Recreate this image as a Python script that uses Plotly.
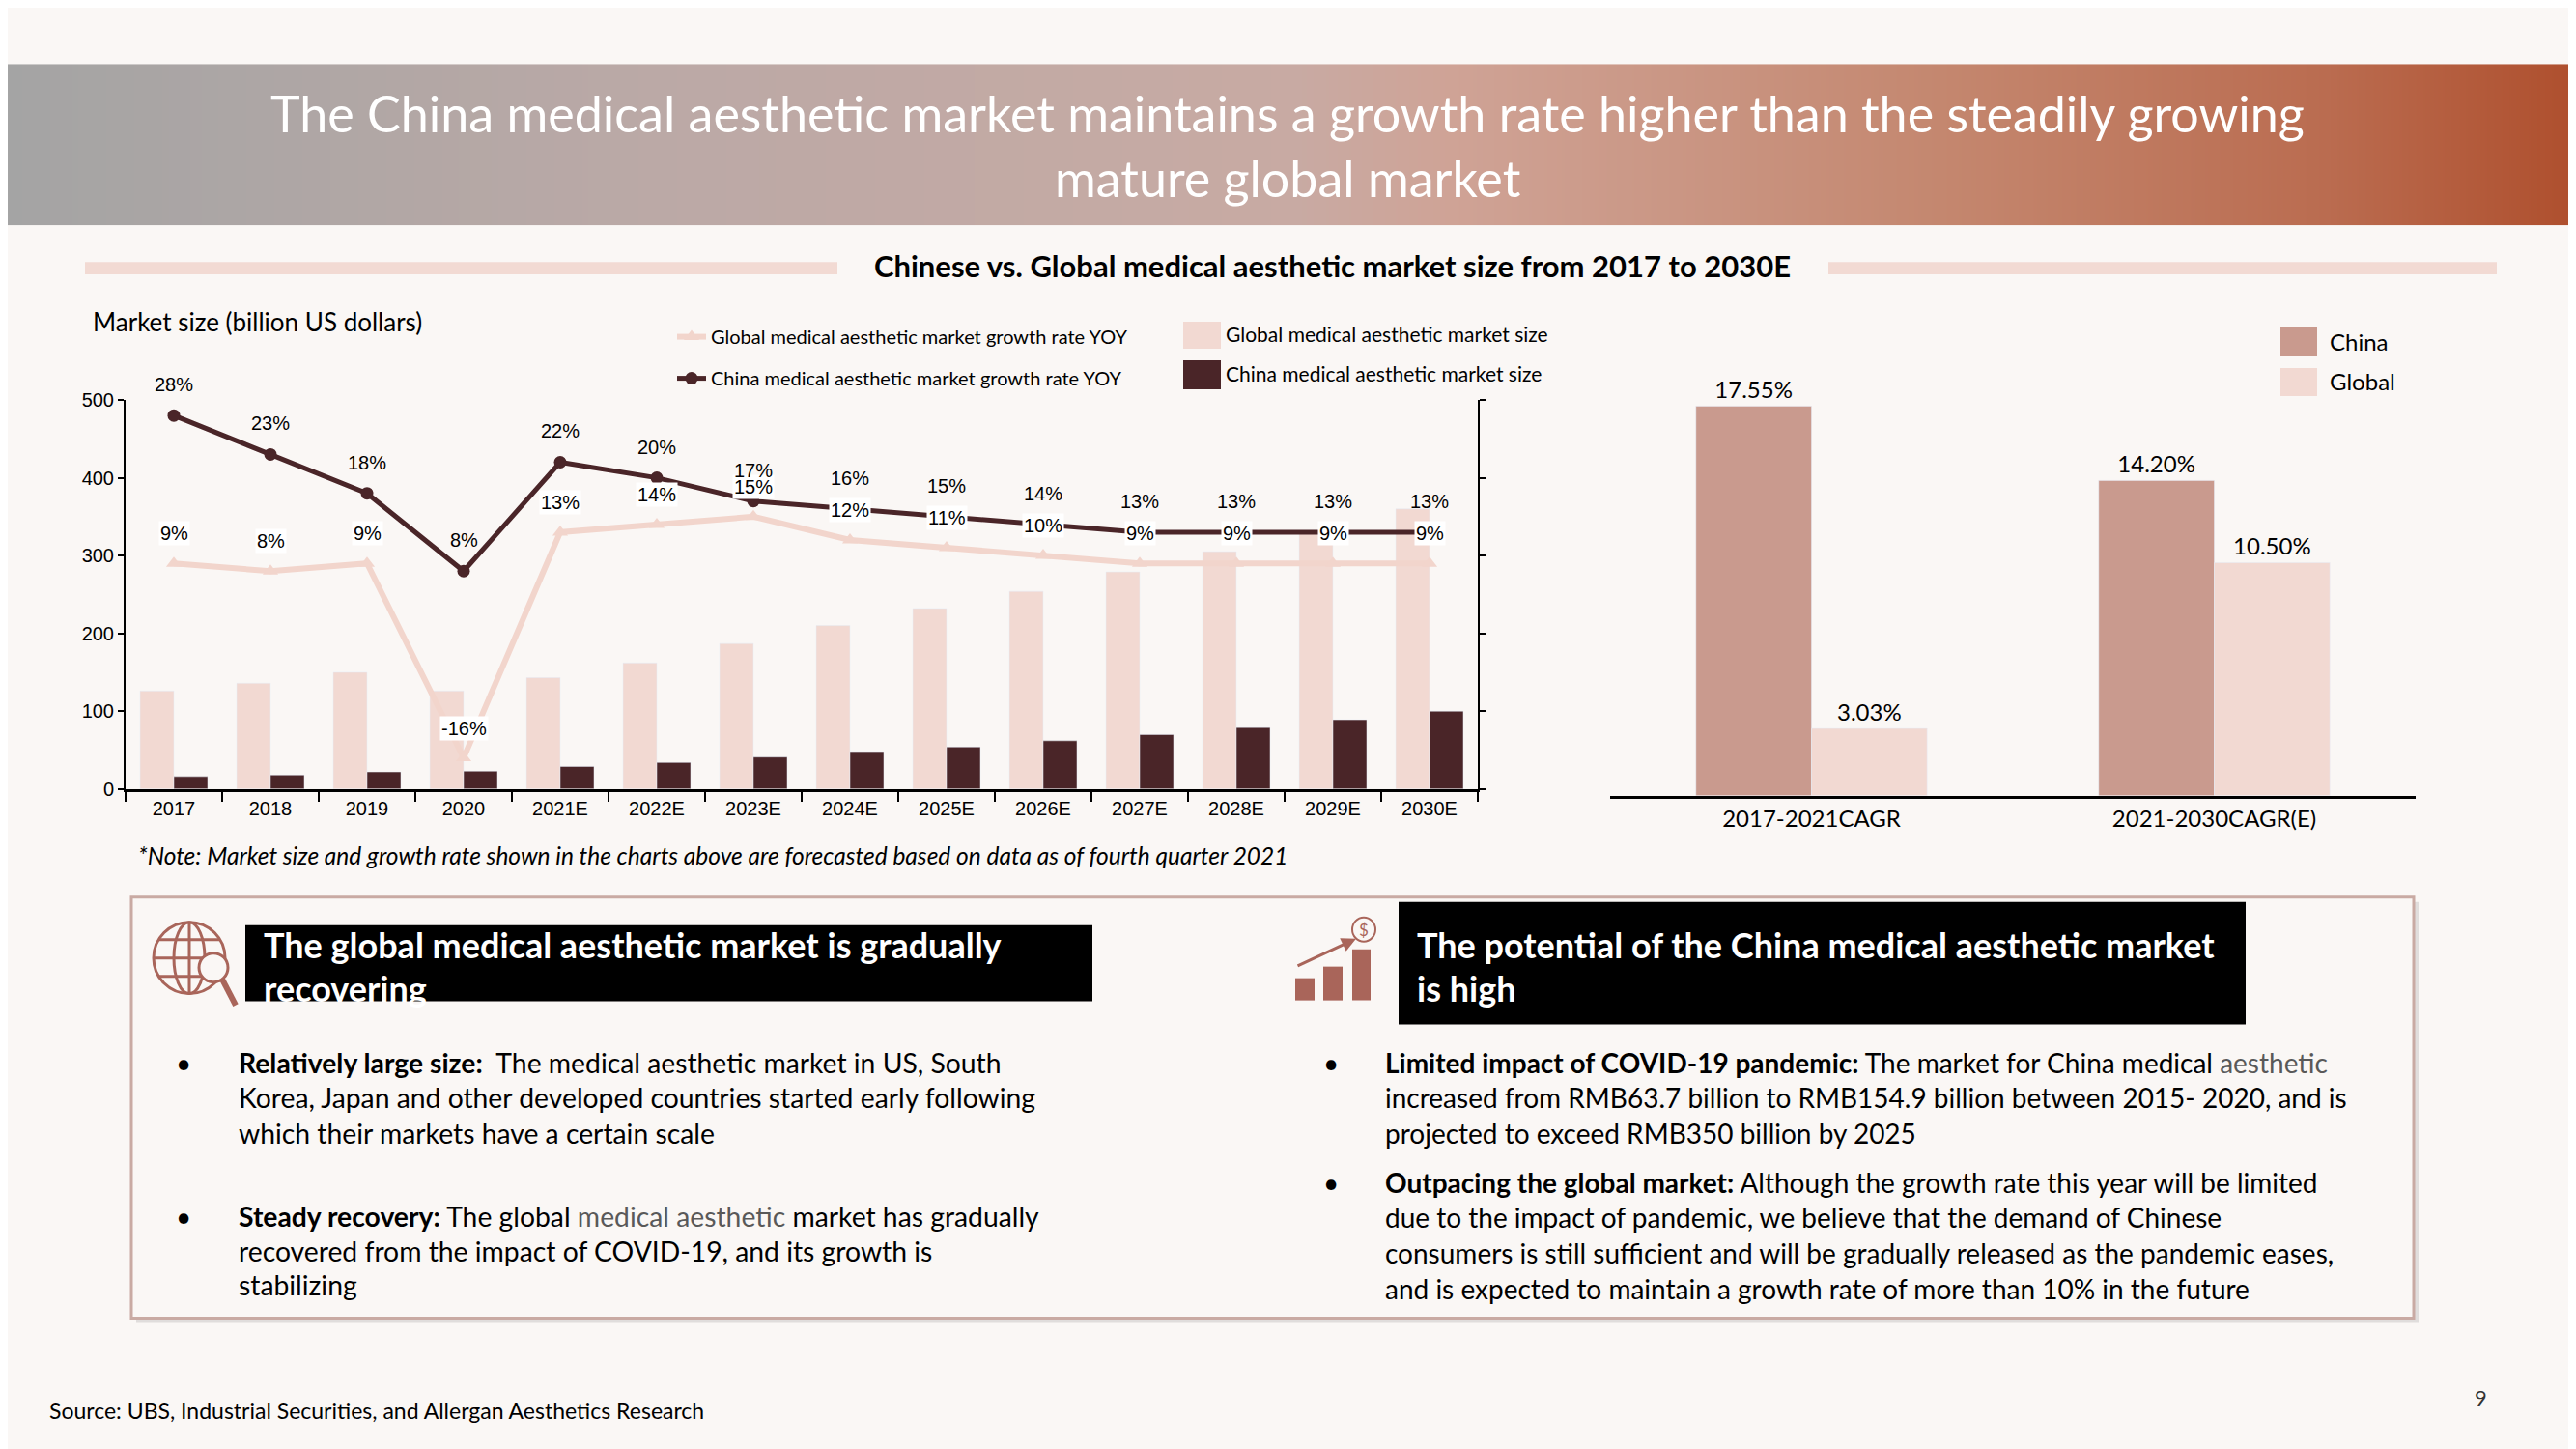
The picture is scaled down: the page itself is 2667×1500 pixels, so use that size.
import plotly.graph_objects as go

# ---- data ----
years = ["2017", "2018", "2019", "2020", "2021E", "2022E", "2023E", "2024E",
         "2025E", "2026E", "2027E", "2028E", "2029E", "2030E"]
global_size = [126, 136, 150, 126, 143, 162, 187, 210, 232, 254, 279, 305, 330, 360]
china_size = [16, 18, 22, 23, 29, 34, 41, 48, 54, 62, 70, 79, 89, 100]
global_growth = [9, 8, 9, -16, 13, 14, 15, 12, 11, 10, 9, 9, 9, 9]
china_growth = [28, 23, 18, 8, 22, 20, 17, 16, 15, 14, 13, 13, 13, 13]

cagr_periods = ["2017-2021CAGR", "2021-2030CAGR(E)"]
cagr_china = [17.55, 14.20]
cagr_global = [3.03, 10.50]

W, H = 2667, 1500
BG = "#FAF7F5"
PINK = "#F2D9D2"
DARK = "#4A2528"
ROSE = "#C99A8E"
ICON = "#A9655A"
FONT = "Lato"
ARIAL = "Liberation Sans"


# slide pixel -> paper (small correction for the page offset seen in the render)
def fx(x):
    return (x - 8) / W


def fy(y):
    return 1 - ((y - 20.7) / 0.986) / H


fig = go.Figure()

# banner gradient
fig.add_trace(go.Heatmap(
    z=[[0, 1], [0, 1]], x=[0, 1], y=[0, 1], xaxis="x4", yaxis="y4",
    zsmooth="best", showscale=False, hoverinfo="skip",
    colorscale=[[0, "#A4A4A4"], [0.25, "#BBA9A6"], [0.5, "#C8AAA3"],
                [0.56, "#CFA396"], [0.75, "#C4876F"], [0.9, "#BA6C50"],
                [1, "#AE4E2C"]]))

# left chart: market size bars
fig.add_trace(go.Bar(x=years, y=global_size, marker_color=PINK, width=0.35, offset=-0.35,
                     name="Global medical aesthetic market size", showlegend=False))
fig.add_trace(go.Bar(x=years, y=china_size, marker_color=DARK, width=0.35, offset=0,
                     name="China medical aesthetic market size", showlegend=False))

# growth lines on hidden right axis
fig.add_trace(go.Scatter(x=years, y=global_growth, yaxis="y2", mode="lines+markers",
                         line=dict(color="#F2D5CC", width=6),
                         marker=dict(symbol="triangle-up", size=14, color="#F2D5CC"),
                         name="Global medical aesthetic market growth rate YOY",
                         legendgroup="g1"))
fig.add_trace(go.Scatter(x=years, y=china_growth, yaxis="y2", mode="lines+markers",
                         line=dict(color=DARK, width=5),
                         marker=dict(symbol="circle", size=13, color=DARK),
                         name="China medical aesthetic market growth rate YOY",
                         legendgroup="g2"))

# right chart: CAGR
fig.add_trace(go.Bar(x=cagr_periods, y=cagr_china, xaxis="x3", yaxis="y3",
                     marker_color=ROSE, width=0.287, offset=-0.287,
                     text=[f"{v:.2f}%" for v in cagr_china], textposition="outside",
                     textfont=dict(family=FONT, size=24, color="black"),
                     cliponaxis=False, showlegend=False, name="China"))
fig.add_trace(go.Bar(x=cagr_periods, y=cagr_global, xaxis="x3", yaxis="y3",
                     marker_color=PINK, width=0.287, offset=0,
                     text=[f"{v:.2f}%" for v in cagr_global], textposition="outside",
                     textfont=dict(family=FONT, size=24, color="black"),
                     cliponaxis=False, showlegend=False, name="Global"))

ann = []


def txt(x, y, s, size, color="black", anchor="left", family=FONT):
    ann.append(dict(x=fx(x), y=fy(y), xref="paper", yref="paper", text=s,
                    showarrow=False, xanchor=anchor, yanchor="middle",
                    font=dict(family=family, size=size, color=color)))


# data labels of the growth lines (category index as x); global boxes first so
# the China labels stay readable on top of them
for i in range(len(years)):
    ann.append(dict(x=i, y=global_growth[i], xref="x", yref="y2", yshift=31,
                    text=f"{global_growth[i]}%", showarrow=False, bgcolor="white",
                    borderpad=1, font=dict(family=ARIAL, size=20, color="black")))
for i in range(len(years)):
    ann.append(dict(x=i, y=china_growth[i], xref="x", yref="y2", yshift=32,
                    text=f"{china_growth[i]}%", showarrow=False,
                    font=dict(family=ARIAL, size=20, color="black")))

# titles
txt(1333, 119, "The China medical aesthetic market maintains a growth rate higher than the steadily growing",
    52, "white", "center")
txt(1333, 186, "mature global market", 52, "white", "center")
txt(1379, 277, "<b>Chinese vs. Global medical aesthetic market size from 2017 to 2030E</b>", 31, "black", "center")
txt(94, 335, "Market size (billion US dollars)", 26)
txt(141, 888, "<i>*Note: Market size and growth rate shown in the charts above are forecasted based on data as of fourth quarter 2021</i>", 24.5)

# bar legend texts
txt(1267, 347, "Global medical aesthetic market size", 21)
txt(1267, 388, "China medical aesthetic market size", 21)
txt(2410, 355, "China", 24)
txt(2410, 396, "Global", 24)

# boxes
txt(271, 980, "<b>The global medical aesthetic market is gradually</b>", 36, "white")
txt(271, 1025, "<b>recovering</b>", 36, "white")
txt(1465, 980, "<b>The potential of the China medical aesthetic market</b>", 36, "white")
txt(1465, 1025, "<b>is high</b>", 36, "white")

GR = "<span style='color:#595959'>%s</span>"
left_lines = [
    (1102, "<b>Relatively large size:</b>  The medical aesthetic market in US, South"),
    (1138, "Korea, Japan and other developed countries started early following"),
    (1175, "which their markets have a certain scale"),
    (1262, "<b>Steady recovery:</b> The global " + GR % "medical aesthetic" + " market has gradually"),
    (1298, "recovered from the impact of COVID-19, and its growth is"),
    (1333, "stabilizing"),
]
right_lines = [
    (1102, "<b>Limited impact of COVID-19 pandemic:</b> The market for China medical " + GR % "aesthetic"),
    (1138, "increased from RMB63.7 billion to RMB154.9 billion between 2015- 2020, and is"),
    (1175, "projected to exceed RMB350 billion by 2025"),
    (1227, "<b>Outpacing the global market:</b> Although the growth rate this year will be limited"),
    (1263, "due to the impact of pandemic, we believe that the demand of Chinese"),
    (1300, "consumers is still sufficient and will be gradually released as the pandemic eases,"),
    (1337, "and is expected to maintain a growth rate of more than 10% in the future"),
]
for y, s in left_lines:
    txt(245, y, s, 28.3)
for y, s in right_lines:
    txt(1432, y, s, 28)
for y in (1102, 1262):
    txt(190, y, "•", 28, anchor="center")
for y in (1102, 1227):
    txt(1378, y, "•", 28, anchor="center")

txt(49, 1463, "Source: UBS, Industrial Securities, and Allergan Aesthetics Research", 23)
txt(2568, 1449, "9", 22, "#333333", "center")

# arrow of the growth icon
ann.append(dict(x=fx(1404), y=fy(974), xref="paper", yref="paper", text="",
                showarrow=True, ax=-62, ay=29, arrowhead=2, arrowsize=1,
                arrowwidth=3, arrowcolor=ICON))
txt(1412, 965, "$", 17, ICON, "center")

shapes = []


def rect(x0, y0, x1, y1, fill, line=None, lw=0):
    shapes.append(dict(type="rect", xref="paper", yref="paper",
                       x0=fx(x0), x1=fx(x1), y0=fy(y1), y1=fy(y0),
                       fillcolor=fill, line=dict(color=line or fill, width=lw)))


def circ(x0, y0, x1, y1, line, lw, fill="rgba(0,0,0,0)"):
    shapes.append(dict(type="circle", xref="paper", yref="paper",
                       x0=fx(x0), x1=fx(x1), y0=fy(y1), y1=fy(y0),
                       fillcolor=fill, line=dict(color=line, width=lw)))


def seg(x0, y0, x1, y1, color, lw):
    shapes.append(dict(type="line", xref="paper", yref="paper",
                       x0=fx(x0), x1=fx(x1), y0=fy(y0), y1=fy(y1),
                       line=dict(color=color, width=lw)))


# subtitle side bars
rect(88, 273, 867, 286, "#F2DAD3")
rect(1893, 273, 2585, 286, "#F2DAD3")

# legend squares
rect(1225, 335, 1264, 363, PINK)
rect(1225, 375, 1264, 405, DARK)
rect(2361, 340, 2399, 371, ROSE)
rect(2361, 383, 2399, 412, PINK)

# bottom panel
rect(141, 936, 2504, 1372, "rgba(0,0,0,0.10)")
rect(136, 931, 2499, 1367, BG, "#C9AAA3", 3)
rect(254, 960, 1131, 1039, "black")
rect(1448, 936, 2325, 1063, "black")

# globe icon
circ(159, 957, 233, 1031, ICON, 3)
circ(180, 957, 212, 1031, ICON, 3)
seg(196, 957, 196, 1031, ICON, 3)
seg(159, 994, 233, 994, ICON, 3)
seg(165, 975, 227, 975, ICON, 3)
seg(165, 1013, 227, 1013, ICON, 3)
circ(206, 989, 236, 1019, ICON, 3, BG)
seg(230, 1016, 244, 1043, ICON, 6)

# growth icon
rect(1341, 1015, 1361, 1038, ICON)
rect(1370, 1003, 1390, 1038, ICON)
rect(1400, 985, 1419, 1038, ICON)
circ(1400, 952, 1424, 977, ICON, 2)

axis_font = dict(family=ARIAL, size=20, color="black")
fig.update_layout(
    width=W, height=H, margin=dict(l=0, r=0, t=0, b=0),
    paper_bgcolor=BG, plot_bgcolor="rgba(0,0,0,0)",
    annotations=ann, shapes=shapes,
    legend=dict(x=fx(696), y=fy(331), xanchor="left", yanchor="top",
                traceorder="grouped", tracegroupgap=14, bgcolor="rgba(0,0,0,0)",
                font=dict(family=FONT, size=20, color="black")),
    xaxis=dict(domain=[fx(130), fx(1530)], anchor="y", type="category", range=[-0.5, 13.5],
               showline=True, linecolor="black", linewidth=3, ticks="outside",
               tickson="boundaries", ticklen=10, tickwidth=2, tickcolor="black",
               tickfont=axis_font, showgrid=False, zeroline=False),
    yaxis=dict(domain=[fy(819), fy(416)], anchor="x", range=[0, 500], dtick=100,
               showline=True, linecolor="black", linewidth=2, ticks="outside",
               ticklen=6, tickwidth=2, tickcolor="black", tickfont=axis_font,
               showgrid=False, zeroline=False),
    yaxis2=dict(overlaying="y", side="right", anchor="x", range=[-20, 30], dtick=10,
                showline=True, linecolor="black", linewidth=2, ticks="outside",
                ticklen=6, tickwidth=2, tickcolor="black", showticklabels=False,
                showgrid=False, zeroline=False),
    xaxis3=dict(domain=[fx(1667), fx(2501)], anchor="y3", type="category", range=[-0.5, 1.5],
                showline=True, linecolor="black", linewidth=3, ticks="",
                tickfont=dict(family=FONT, size=24, color="black"), showgrid=False),
    yaxis3=dict(domain=[fy(826), fy(366)], anchor="x3", range=[0, 20], visible=False),
    xaxis4=dict(domain=[0, 1], anchor="y4", range=[0, 1], visible=False),
    yaxis4=dict(domain=[fy(235), fy(68)], anchor="x4", range=[0, 1], visible=False),
)

fig.write_html("out.html", config={"displayModeBar": False})
